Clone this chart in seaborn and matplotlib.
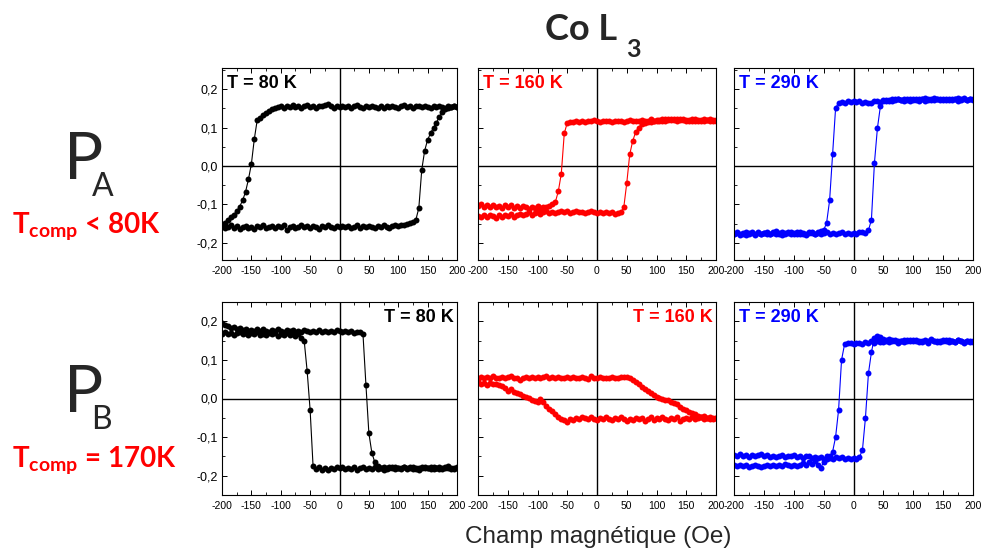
import matplotlib
matplotlib.use("Agg")
import matplotlib.pyplot as plt
import matplotlib.ticker as mticker
import seaborn as sns

W_PX, H_PX = 981, 553

# champ magnétique (Oe), balayage commun aux six cycles
field = [-200, -195, -190, -185, -180, -175, -170, -165, -160, -155,
         -150, -145, -140, -135, -130, -125, -120, -115, -110, -105,
         -100, -95, -90, -85, -80, -75, -70, -65, -60, -55,
         -50, -45, -40, -35, -30, -25, -20, -15, -10, -5,
         0, 5, 10, 15, 20, 25, 30, 35, 40, 45,
         50, 55, 60, 65, 70, 75, 80, 85, 90, 95,
         100, 105, 110, 115, 120, 125, 130, 135, 140, 145,
         150, 155, 160, 165, 170, 175, 180, 185, 190, 195,
         200]

# P_A, T = 80 K
pa80_desc = [-0.155, -0.148, -0.142, -0.134, -0.127, -0.118, -0.106, -0.09, -0.068, -0.035,
             0.005, 0.07, 0.12, 0.126, 0.132, 0.139, 0.143, 0.148, 0.151, 0.153,
             0.156, 0.152, 0.157, 0.154, 0.159, 0.153, 0.156, 0.151, 0.155, 0.158,
             0.154, 0.156, 0.152, 0.157, 0.155, 0.159, 0.162, 0.155, 0.151, 0.156,
             0.154, 0.157, 0.153, 0.156, 0.152, 0.155, 0.158, 0.154, 0.151, 0.156,
             0.153, 0.157, 0.154, 0.15, 0.155, 0.152, 0.156, 0.153, 0.157, 0.154,
             0.151, 0.155, 0.158, 0.153, 0.156, 0.152, 0.155, 0.157, 0.153, 0.156,
             0.154, 0.152, 0.156, 0.153, 0.157, 0.154, 0.151, 0.155, 0.153, 0.156,
             0.154]
pa80_asc = [-0.157, -0.162, -0.158, -0.155, -0.161, -0.157, -0.163, -0.159, -0.156, -0.162,
            -0.158, -0.163, -0.157, -0.16, -0.155, -0.161, -0.158, -0.156, -0.162, -0.157,
            -0.159, -0.155, -0.166, -0.16, -0.156, -0.162, -0.158, -0.154, -0.16, -0.157,
            -0.161, -0.156, -0.159, -0.163, -0.157, -0.16, -0.155, -0.158, -0.161, -0.156,
            -0.159, -0.156, -0.16, -0.157, -0.162, -0.158, -0.155, -0.161, -0.157, -0.16,
            -0.156, -0.159, -0.162, -0.157, -0.16, -0.155, -0.158, -0.161, -0.157, -0.155,
            -0.157, -0.154, -0.153, -0.15, -0.148, -0.145, -0.14, -0.11, -0.01, 0.04,
            0.068, 0.085, 0.1, 0.113, 0.128, 0.14, 0.147, 0.151, 0.153, 0.155,
            0.154]

# P_A, T = 160 K
pa160_desc = [-0.105, -0.1, -0.108, -0.103, -0.107, -0.101, -0.108, -0.104, -0.11, -0.103,
              -0.107, -0.102, -0.109, -0.105, -0.11, -0.104, -0.108, -0.112, -0.106, -0.109,
              -0.104, -0.11, -0.106, -0.108, -0.104, -0.1, -0.094, -0.066, -0.02, 0.085,
              0.112, 0.114, 0.114, 0.116, 0.115, 0.117, 0.115, 0.118, 0.116, 0.119,
              0.117, 0.115, 0.118, 0.116, 0.117, 0.115, 0.118, 0.116, 0.117, 0.115,
              0.117, 0.119, 0.116, 0.118, 0.117, 0.12, 0.118, 0.117, 0.121, 0.118,
              0.12, 0.117, 0.121, 0.118, 0.122, 0.119, 0.121, 0.123, 0.119, 0.121,
              0.118, 0.12, 0.117, 0.121, 0.118, 0.12, 0.117, 0.119, 0.122, 0.118,
              0.12]
pa160_asc = [-0.13, -0.134, -0.128, -0.133, -0.127, -0.131, -0.135, -0.129, -0.132, -0.127,
             -0.13, -0.126, -0.133, -0.128, -0.124, -0.129, -0.125, -0.121, -0.127, -0.123,
             -0.119, -0.124, -0.12, -0.117, -0.122, -0.119, -0.123, -0.12, -0.117, -0.121,
             -0.118, -0.122, -0.12, -0.117, -0.121, -0.119, -0.122, -0.12, -0.118, -0.121,
             -0.123, -0.12, -0.122, -0.119, -0.123, -0.121, -0.124, -0.122, -0.12, -0.108,
             -0.045, 0.03, 0.065, 0.088, 0.1, 0.11, 0.113, 0.115, 0.114, 0.117,
             0.118, 0.12, 0.117, 0.121, 0.119, 0.122, 0.12, 0.118, 0.121, 0.119,
             0.12, 0.118, 0.121, 0.117, 0.12, 0.118, 0.121, 0.119, 0.117, 0.12,
             0.118]

# P_A, T = 290 K
pa290_desc = [-0.176, -0.172, -0.178, -0.174, -0.179, -0.175, -0.171, -0.177, -0.174, -0.178,
              -0.175, -0.172, -0.177, -0.174, -0.17, -0.176, -0.173, -0.178, -0.175, -0.172,
              -0.176, -0.173, -0.178, -0.174, -0.176, -0.172, -0.175, -0.177, -0.173, -0.17,
              -0.168, -0.148, -0.09, 0.03, 0.15, 0.165, 0.167, 0.163, 0.168, 0.166,
              0.169, 0.166, 0.168, 0.164, 0.167, 0.165, 0.163, 0.168, 0.17, 0.166,
              0.171, 0.168, 0.172, 0.17, 0.173, 0.175, 0.171, 0.174, 0.172, 0.17,
              0.174, 0.171, 0.175, 0.173, 0.168, 0.174, 0.172, 0.176, 0.173, 0.171,
              0.174, 0.172, 0.175, 0.171, 0.173, 0.176, 0.172, 0.174, 0.171, 0.175,
              0.173]
pa290_asc = [-0.178, -0.174, -0.18, -0.176, -0.172, -0.178, -0.175, -0.179, -0.173, -0.177,
             -0.174, -0.178, -0.176, -0.172, -0.177, -0.174, -0.179, -0.175, -0.171, -0.176,
             -0.174, -0.177, -0.173, -0.176, -0.179, -0.175, -0.172, -0.176, -0.174, -0.178,
             -0.175, -0.173, -0.176, -0.174, -0.177, -0.175, -0.173, -0.176, -0.174, -0.177,
             -0.175, -0.176, -0.173, -0.172, -0.175, -0.168, -0.14, 0.007, 0.098, 0.155,
             0.168, 0.171, 0.17, 0.173, 0.171, 0.174, 0.172, 0.17, 0.173, 0.175,
             0.172, 0.175, 0.17, 0.173, 0.176, 0.171, 0.174, 0.172, 0.175, 0.173,
             0.171, 0.174, 0.172, 0.175, 0.173, 0.17, 0.174, 0.176, 0.172, 0.174,
             0.172]

# P_B, T = 80 K
pb80_a = [0.195, 0.19, 0.188, 0.183, 0.185, 0.179, 0.182, 0.177, 0.18, 0.175,
          0.178, 0.174, 0.179, 0.175, 0.181, 0.176, 0.173, 0.178, 0.175, 0.18,
          0.176, 0.173, 0.178, 0.174, 0.177, 0.172, 0.176, 0.173, 0.177, 0.174,
          0.172, 0.176, 0.173, 0.177, 0.171, 0.175, 0.172, 0.176, 0.173, 0.178,
          0.174, 0.171, 0.176, 0.172, 0.174, 0.17, 0.173, 0.171, 0.166, 0.035,
          -0.09, -0.14, -0.165, -0.176, -0.18, -0.177, -0.182, -0.178, -0.181, -0.177,
          -0.18, -0.183, -0.178, -0.181, -0.177, -0.182, -0.179, -0.184, -0.178, -0.181,
          -0.179, -0.182, -0.177, -0.181, -0.178, -0.183, -0.179, -0.176, -0.182, -0.18,
          -0.178]
pb80_b = [0.168, 0.171, 0.166, 0.17, 0.165, 0.169, 0.172, 0.166, 0.17, 0.164,
          0.169, 0.166, 0.171, 0.165, 0.168, 0.164, 0.17, 0.166, 0.169, 0.163,
          0.168, 0.165, 0.17, 0.164, 0.167, 0.163, 0.166, 0.157, 0.148, 0.07,
          -0.03, -0.175, -0.182, -0.178, -0.185, -0.18, -0.184, -0.179, -0.182, -0.178,
          -0.181, -0.177, -0.183, -0.179, -0.182, -0.178, -0.184, -0.18, -0.178, -0.182,
          -0.179, -0.183, -0.178, -0.182, -0.18, -0.184, -0.179, -0.181, -0.177, -0.182,
          -0.179, -0.181, -0.177, -0.183, -0.18, -0.178, -0.182, -0.179, -0.181, -0.177,
          -0.181, -0.178, -0.183, -0.179, -0.182, -0.18, -0.177, -0.181, -0.179, -0.182,
          -0.18]

# P_B, T = 160 K
pb160_a = [0.05, 0.055, 0.052, 0.056, 0.053, 0.057, 0.054, 0.052, 0.056, 0.053,
           0.055, 0.058, 0.054, 0.052, 0.047, 0.053, 0.056, 0.053, 0.055, 0.052,
           0.056, 0.053, 0.055, 0.057, 0.052, 0.055, 0.053, 0.056, 0.054, 0.052,
           0.055, 0.053, 0.056, 0.054, 0.052, 0.055, 0.053, 0.051, 0.057, 0.054,
           0.052, 0.055, 0.053, 0.054, 0.052, 0.055, 0.053, 0.052, 0.055, 0.056,
           0.056, 0.052, 0.047, 0.043, 0.037, 0.031, 0.025, 0.02, 0.014, 0.009,
           0.005, 0.002, -0.001, -0.003, -0.004, -0.008, -0.012, -0.015, -0.022, -0.027,
           -0.031, -0.034, -0.038, -0.041, -0.045, -0.047, -0.046, -0.05, -0.048, -0.052,
           -0.05]
pb160_b = [0.044, 0.037, 0.041, 0.036, 0.04, 0.037, 0.038, 0.034, 0.032, 0.027,
           0.02, 0.024, 0.018, 0.014, 0.012, 0.007, 0.004, 0.001, -0.003, -0.007,
           -0.01, 0.0, -0.01, -0.02, -0.027, -0.032, -0.04, -0.047, -0.053, -0.056,
           -0.06, -0.052, -0.055, -0.05, -0.053, -0.048, -0.051, -0.054, -0.049, -0.052,
           -0.055, -0.05, -0.053, -0.048, -0.052, -0.056, -0.05, -0.053, -0.049, -0.052,
           -0.057, -0.052, -0.055, -0.05, -0.054, -0.051, -0.058, -0.053, -0.049, -0.055,
           -0.05, -0.054, -0.049, -0.052, -0.056, -0.051, -0.053, -0.048, -0.058, -0.052,
           -0.05, -0.054, -0.049, -0.053, -0.051, -0.048, -0.053, -0.05, -0.054, -0.051,
           -0.05]

# P_B, T = 290 K
pb290_desc = [-0.173, -0.176, -0.172, -0.175, -0.173, -0.177, -0.174, -0.172, -0.175, -0.178,
              -0.174, -0.172, -0.176, -0.173, -0.175, -0.171, -0.174, -0.17, -0.173, -0.176,
              -0.172, -0.175, -0.171, -0.168, -0.172, -0.165, -0.17, -0.163, -0.172, -0.18,
              -0.165, -0.158, -0.15, -0.138, -0.1, -0.03, 0.1, 0.14, 0.145, 0.143,
              0.141, 0.145, 0.143, 0.142, 0.146, 0.144, 0.148, 0.143, 0.15, 0.147,
              0.146, 0.15, 0.147, 0.152, 0.148, 0.145, 0.15, 0.147, 0.151, 0.148,
              0.152, 0.149, 0.146, 0.15, 0.148, 0.144, 0.151, 0.149, 0.147, 0.15,
              0.148, 0.151, 0.146, 0.15, 0.147, 0.152, 0.149, 0.145, 0.148, 0.146,
              0.147]
pb290_asc = [-0.146, -0.15, -0.145, -0.149, -0.147, -0.152, -0.146, -0.15, -0.147, -0.145,
             -0.15, -0.147, -0.151, -0.148, -0.152, -0.149, -0.146, -0.151, -0.148, -0.15,
             -0.147, -0.151, -0.149, -0.153, -0.15, -0.148, -0.154, -0.151, -0.155, -0.152,
             -0.156, -0.15, -0.153, -0.157, -0.152, -0.155, -0.151, -0.156, -0.153, -0.157,
             -0.155, -0.158, -0.152, -0.133, -0.05, 0.065, 0.12, 0.158, 0.162, 0.16,
             0.155, 0.151, 0.153, 0.149, 0.152, 0.15, 0.148, 0.152, 0.149, 0.151,
             0.148, 0.152, 0.15, 0.147, 0.151, 0.149, 0.153, 0.148, 0.15, 0.146,
             0.151, 0.148, 0.152, 0.149, 0.147, 0.151, 0.149, 0.146, 0.15, 0.148,
             0.149]

temps = ["T = 80 K", "T = 160 K", "T = 290 K"]
colors = ["black", "#ff0000", "#0000ff"]
loops = [[(pa80_desc, pa80_asc), (pa160_desc, pa160_asc), (pa290_desc, pa290_asc)],
         [(pb80_a, pb80_b), (pb160_a, pb160_b), (pb290_desc, pb290_asc)]]
label_side = [["left", "left", "left"], ["right", "right", "left"]]

sns.set_style("ticks")
plt.rcParams['font.family'] = ['Liberation Sans', 'DejaVu Sans']
plt.rcParams['axes.unicode_minus'] = False
plt.rcParams['axes.linewidth'] = 0.8
plt.rcParams['mathtext.fontset'] = 'custom'
plt.rcParams['mathtext.rm'] = 'Lato'
plt.rcParams['mathtext.bf'] = 'Lato:bold'
plt.rcParams['mathtext.it'] = 'Lato:italic'

fig = plt.figure(figsize=(W_PX / 100, H_PX / 100), dpi=100)

def fx(px):
    return px / W_PX

def fy(py):
    return 1 - py / H_PX

cols_px = [(222, 457), (478, 716), (734, 973)]
rows_px = [(68, 260), (302, 495)]
ylims = [(-0.245, 0.255), (-0.25, 0.25)]

comma = mticker.FuncFormatter(lambda v, pos: f"{v:.1f}".replace('.', ','))

for r in range(2):
    for c in range(3):
        x0, x1 = cols_px[c]
        y0, y1 = rows_px[r]
        ax = fig.add_axes([fx(x0), fy(y1), fx(x1) - fx(x0), fy(y0) - fy(y1)])
        col = colors[c]
        for branch in loops[r][c]:
            sns.lineplot(x=field, y=branch, ax=ax, color=col, marker='o',
                         markersize=4.3, markeredgewidth=0, linewidth=0.8,
                         sort=False, estimator=None)
        ax.axhline(0, color='black', lw=1.0, zorder=0)
        ax.axvline(0, color='black', lw=1.0, zorder=0)
        ax.set_xlim(-200, 200)
        ax.set_ylim(*ylims[r])
        ax.xaxis.set_major_locator(mticker.MultipleLocator(50))
        ax.xaxis.set_minor_locator(mticker.MultipleLocator(25))
        ax.yaxis.set_major_locator(mticker.MultipleLocator(0.1))
        ax.yaxis.set_minor_locator(mticker.MultipleLocator(0.05))
        ax.yaxis.set_major_formatter(comma)
        ax.tick_params(axis='both', which='both', direction='in', top=True, right=False,
                       colors='black')
        ax.tick_params(which='major', length=3.5, width=0.7)
        ax.tick_params(which='minor', length=2, width=0.6)
        ax.tick_params(axis='x', labelsize=7.5, pad=4)
        ax.tick_params(axis='y', labelsize=9, pad=3)
        if c > 0:
            ax.tick_params(axis='y', labelleft=False)
        for sp in ax.spines.values():
            sp.set_color('black')
            sp.set_linewidth(0.8)
        ax.set_xlabel('')
        ax.set_ylabel('')
        if label_side[r][c] == "left":
            ax.text(0.02, 0.895, temps[c], transform=ax.transAxes, ha='left', va='baseline',
                    fontsize=13, fontweight='bold', color=col)
        else:
            ax.text(0.985, 0.895, temps[c], transform=ax.transAxes, ha='right', va='baseline',
                    fontsize=13, fontweight='bold', color=col)

# titre et axe commun
fig.text(fx(545), fy(40), "Co L", family='Lato', fontweight='bold', fontsize=26,
         ha='left', va='baseline')
fig.text(fx(626), fy(57), "3", family='Lato', fontweight='bold', fontsize=18,
         ha='left', va='baseline')
fig.text(fx(598), fy(543), "Champ magnétique (Oe)", fontsize=17.5, ha='center', va='baseline')

# étiquettes des échantillons
red = "#ff0000"
for (p_base, sub, t_base, rest) in [(180, "A", 233, "< 80K"),
                                     (413, "B", 467, "= 170K")]:
    fig.text(fx(63), fy(p_base), r"$\mathrm{P}_{\!\!{}_{\mathrm{%s}}}$" % sub, family='Lato',
             fontsize=47, ha='left', va='baseline')
    fig.text(fx(12), fy(t_base), r"$\mathbf{T}_{\mathbf{comp}}$ " + rest, family='Lato',
             fontweight='bold', fontsize=20, color=red, ha='left', va='baseline')

fig.savefig("out.png", dpi=100)
